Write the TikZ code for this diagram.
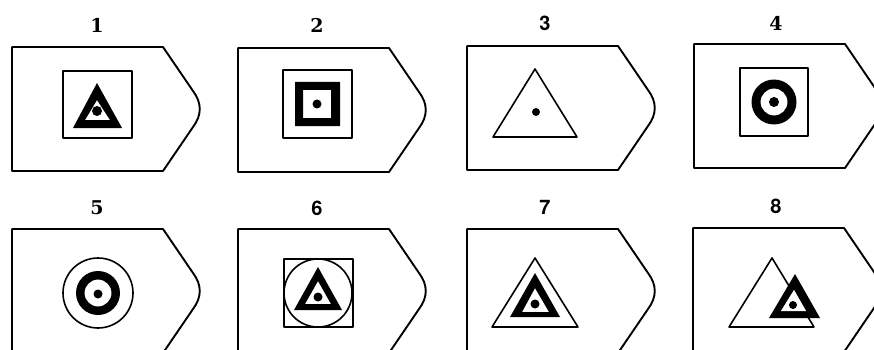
\documentclass[tikz,border=0pt]{standalone}
\usepackage{fontspec}
\newfontfamily\sansnum{TeX Gyre Heros}
\newfontfamily\serifnum{DejaVu Serif}
\newcommand\tagat[2]{\begin{scope}[shift={(#1,#2)}]
  \draw[outline] (0,0) -- (151,0) -- (181,44) .. controls (190,56) and (190,68) .. (181,80) -- (151,124) -- (0,124) -- cycle;
\end{scope}}
\begin{document}
\begin{tikzpicture}[x=1pt,y=-1pt,line join=round,
  outline/.style={line width=1.9pt},
  thinline/.style={line width=1.6pt},
  num/.style={font=\fontsize{19}{22}\serifnum\bfseries},
  snum/.style={font=\fontsize{20}{24}\sansnum\bfseries},
  ring/.style={fill=black,even odd rule}]
\clip (0,0) rectangle (874,350);
\fill[white] (0,0) rectangle (874,350);

% tags
\tagat{12}{47}
\tagat{238}{48}
\tagat{467}{46}
\tagat{694}{44}
\tagat{12}{229}
\tagat{238}{229}
\tagat{467}{229}
\tagat{693}{228}

% labels
\node[num]  (l1) at (97,25)  {1};
\node[num]  (l2) at (317,25) {2};
\node[snum] (l3) at (545,23) {3};
\node[num]  (l4) at (776,23) {4};
\node[num]  (l5) at (97,208) {5};
\node[snum] (l6) at (317,208) {6};
\node[snum] (l7) at (545,207) {7};
\node[snum] (l8) at (776,206) {8};

% 1
\draw[thinline] (63,71) rectangle (132,138);
\fill[ring] (97,83) -- (73,128) -- (122,128) -- cycle (97,100) -- (85,120) -- (110,120) -- cycle;
\fill (97,111) circle (5);

% 2
\draw[thinline] (283,70) rectangle (352,138);
\fill[ring] (295,82) rectangle (340,126) (303,90) rectangle (331,118);
\fill (317,104) circle (4.5);

% 3
\draw[thinline] (535,69) -- (493,137) -- (577,137) -- cycle;
\fill (536,112) circle (4);

% 4
\draw[thinline] (740,68) rectangle (808,136);
\fill[ring] (774,102) circle (22.5) (774,102) circle (13.5);
\fill (774,102) circle (5);

% 5
\draw[thinline] (98,293) circle (35);
\fill[ring] (98,293) circle (22) (98,293) circle (13.5);
\fill (98,294) circle (4.5);

% 6
\draw[thinline] (284,259) rectangle (353,327);
\draw[thinline] (318,293) circle (34);
\fill[ring] (318,267) -- (294,310) -- (342,310) -- cycle (318,281) -- (305,304) -- (331,304) -- cycle;
\fill (318,297) circle (4.5);

% 7
\draw[thinline] (535,258) -- (492,327) -- (578,327) -- cycle;
\fill[ring] (535,273) -- (510,317) -- (560,317) -- cycle (535,288) -- (522,312) -- (549,312) -- cycle;
\fill (535,304) circle (4.5);

% 8
\draw[thinline] (772,258) -- (729,327) -- (814,327) -- cycle;
\fill[ring] (795,274) -- (769,318) -- (820,318) -- cycle (794,290) -- (781,311) -- (806,311) -- cycle;
\fill[white] (794,290) -- (781,311) -- (806,311) -- cycle;
\fill (793,305) circle (4);
\end{tikzpicture}
\end{document}
